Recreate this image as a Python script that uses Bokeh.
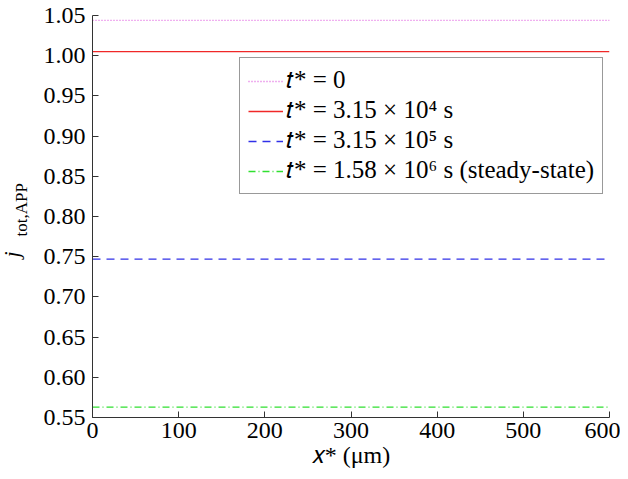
from bokeh.plotting import figure
from bokeh.models import Range1d, FixedTicker, Legend, LegendItem, Title, CustomJSTickFormatter
from bokeh.embed import file_html
from bokeh.resources import INLINE

# ---- data ----
x_um = [0, 100, 200, 300, 400, 500, 600]
j_t0 = [1.044] * 7
j_t1 = [1.005] * 7
j_t2 = [0.747] * 7
j_t3 = [0.563] * 7
series_labels = ["𝑡* = 0", "𝑡* = 3.15 × 10⁴ s", "𝑡* = 3.15 × 10⁵ s", "𝑡* = 1.58 × 10⁶ s (steady-state)"]
x_ticks = [0, 100, 200, 300, 400, 500, 600]
y_ticks = [0.55, 0.60, 0.65, 0.70, 0.75, 0.80, 0.85, 0.90, 0.95, 1.00, 1.05]

FONT = "Liberation Serif"

p = figure(width=620, height=479, output_backend="svg", toolbar_location=None,
           x_range=Range1d(0, 600), y_range=Range1d(0.55, 1.05),
           min_border_left=92, min_border_right=11, min_border_top=15, min_border_bottom=62)
p.outline_line_color = None
p.xgrid.visible = False
p.ygrid.visible = False
p.background_fill_color = "white"
p.border_fill_color = "white"

for ax in (p.xaxis[0], p.yaxis[0]):
    ax.major_tick_in = 6
    ax.major_tick_out = 0
    ax.minor_tick_line_color = None
    ax.axis_line_color = "#333333"
    ax.major_tick_line_color = "#333333"
    ax.major_label_text_font = FONT
    ax.major_label_text_font_size = "24px"
    ax.major_label_text_color = "black"
p.xaxis[0].ticker = FixedTicker(ticks=x_ticks)
p.yaxis[0].ticker = FixedTicker(ticks=y_ticks)
p.yaxis[0].formatter = CustomJSTickFormatter(code="return tick.toFixed(2);")
p.xaxis[0].major_label_standoff = 5
p.yaxis[0].major_label_standoff = 7
p.xaxis[0].axis_label = "𝑥* (μm)"
p.xaxis[0].axis_label_text_font = FONT
p.xaxis[0].axis_label_text_font_style = "normal"
p.xaxis[0].axis_label_text_font_size = "24px"
p.xaxis[0].axis_label_text_color = "black"
p.xaxis[0].axis_label_standoff = 1

r0 = p.line(x_um, j_t0, line_color="#e060e0", line_width=1.3, line_dash="1 2")
r1 = p.line(x_um, j_t1, line_color="#f02828", line_width=1.3)
r2 = p.line(x_um, j_t2, line_color="#3030e8", line_width=1.3, line_dash="8 6")
r3 = p.line(x_um, j_t3, line_color="#30e030", line_width=1.3, line_dash="7 3 1 3")

legend = Legend(items=[LegendItem(label=l, renderers=[r]) for l, r in zip(series_labels, [r0, r1, r2, r3])],
                location=(147, 223), border_line_color="#333333", border_line_width=1,
                background_fill_color="white", background_fill_alpha=1,
                label_text_font=FONT, label_text_font_size="25px", label_text_color="black",
                label_height=28, glyph_width=35, glyph_height=28, label_standoff=3,
                spacing=1, padding=8, margin=0)
p.add_layout(legend, "center")

# y axis title: italic j with subscript, as two side titles
p.add_layout(Title(text="tot,APP", text_font=FONT, text_font_size="17px", text_font_style="normal",
                   text_color="black", align="left", offset=181, standoff=16,
                   vertical_align="top"), "left")
p.add_layout(Title(text="j", text_font=FONT, text_font_size="22px", text_font_style="italic",
                   text_color="black", align="left", offset=160, standoff=-40,
                   vertical_align="bottom"), "left")

open("out.html", "w").write(file_html(p, INLINE))
